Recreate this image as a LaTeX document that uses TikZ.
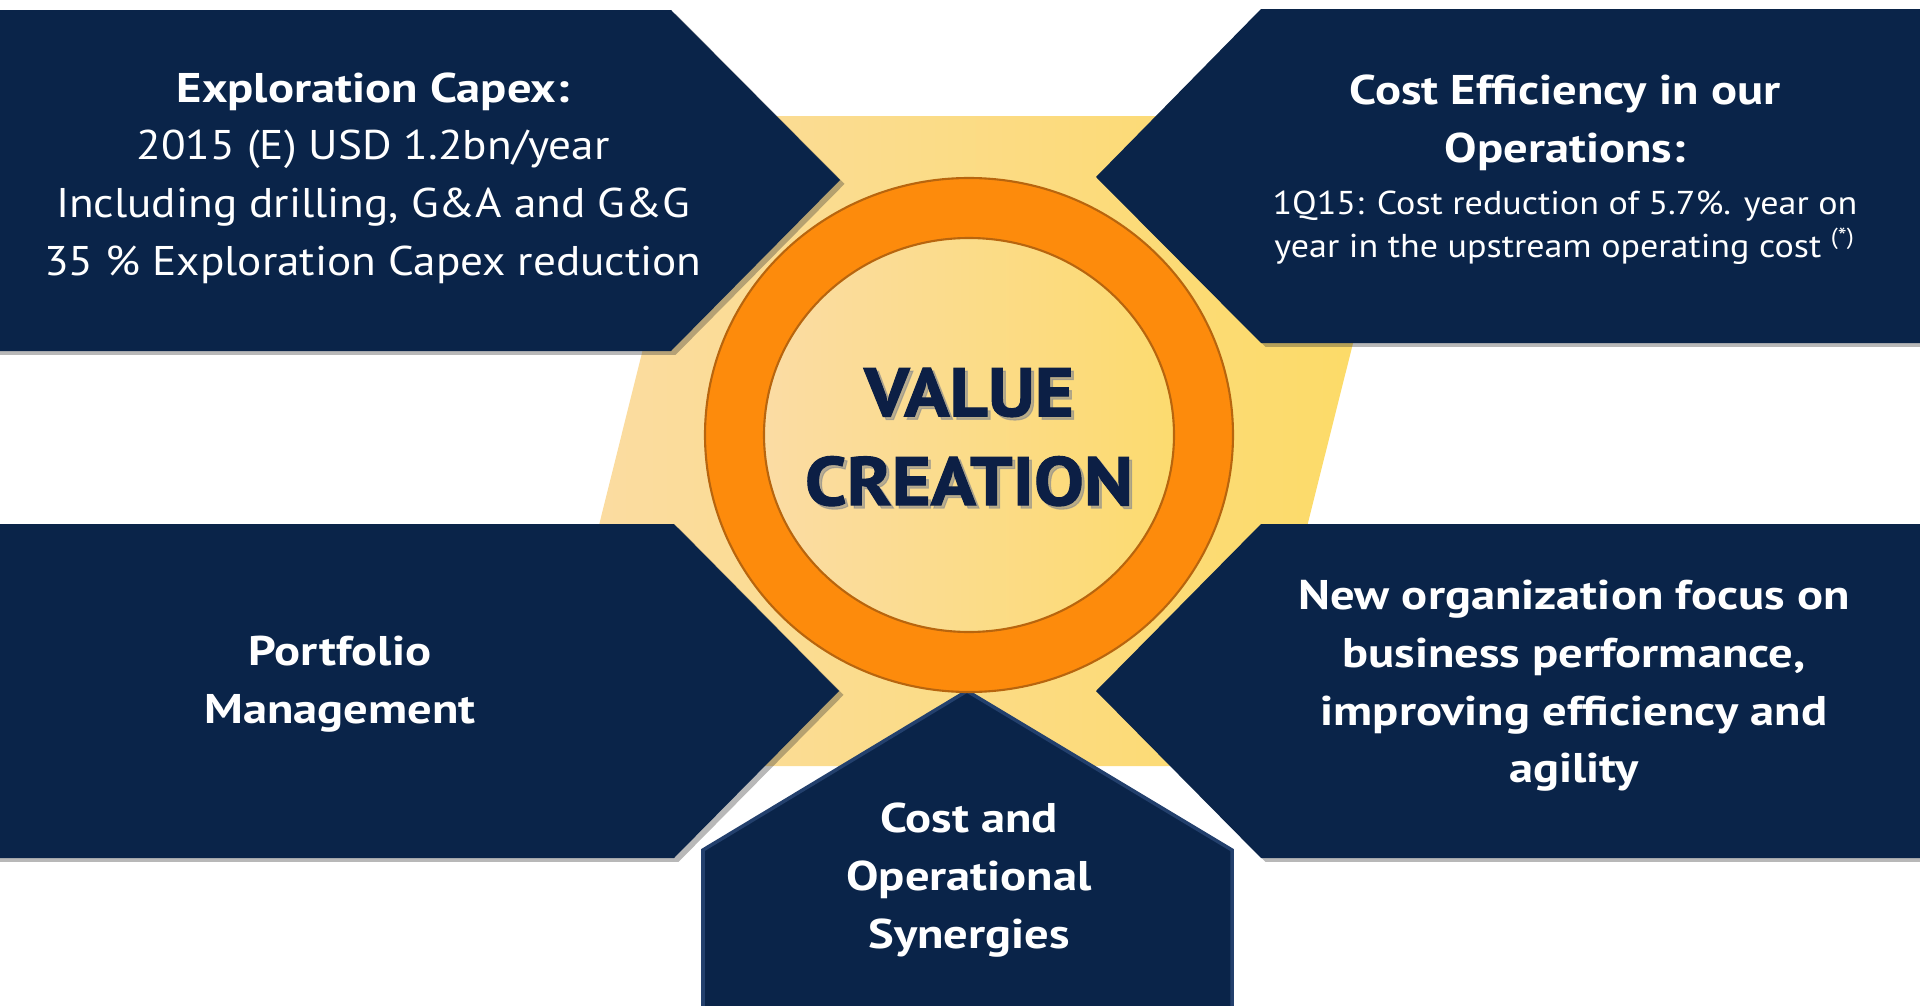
\documentclass[tikz,border=0pt]{standalone}
\usepackage{fontspec}
\setmainfont{PT Sans}
\newfontfamily\headfont[FakeStretch=1.17]{PT Sans}
\newfontfamily\bodyfont[FakeStretch=1.09]{PT Sans}
\newfontfamily\valuefont[FakeStretch=1.09,BoldFeatures={FakeBold=1.6}]{PT Sans}
\usetikzlibrary{shadows,positioning}
\definecolor{navy}{HTML}{0A2449}
\definecolor{navyedge}{HTML}{23406D}
\definecolor{peach}{HTML}{FBDCA5}
\definecolor{sunyellow}{HTML}{FCDB64}
\definecolor{ringorange}{HTML}{FD8B0C}
\definecolor{ringedge}{HTML}{B8650E}
\definecolor{textnavy}{HTML}{0C1F45}
\tikzset{
  navyarrow/.style={fill=navy,
                    drop shadow={shadow xshift=1.3pt,shadow yshift=-1.1pt,
                                 opacity=.35,fill=black!80}},
  bevelbox/.style={fill=navy,draw=navyedge,line width=1pt},
  headtext/.style={text=white,align=center,inner sep=0pt,
                   font=\headfont\bfseries\fontsize{11.8}{16.4}\selectfont},
  bodytext/.style={text=white,align=center,inner sep=0pt,
                   font=\bodyfont\fontsize{11.8}{16.4}\selectfont},
  notetext/.style={text=white,align=center,inner sep=0pt,
                   font=\bodyfont\fontsize{9.4}{12.2}\selectfont},
  valuetext/.style={align=center,inner sep=0pt,
                    font=\valuefont\bfseries\fontsize{19.5}{25.3}\selectfont}
}
\begin{document}
\begin{tikzpicture}[x=0.01cm,y=-0.01cm]
  \useasboundingbox (0,0) rectangle (1920,1006);
  \clip (0,0) rectangle (1920,1006);
  % yellow band behind everything
  \shade[left color=peach,right color=sunyellow]
    (701,116) -- (1410,116) -- (1247,766) -- (539,766) -- cycle;
  % the four arrows
  \fill[navyarrow] (-20,10) -- (671,10) -- (840,180) -- (671,351) -- (-20,351) -- cycle;
  \fill[navyarrow] (1940,9) -- (1261,9) -- (1096,177) -- (1261,343) -- (1940,343) -- cycle;
  \fill[navyarrow] (-20,524) -- (674,524) -- (839,691) -- (674,858) -- (-20,858) -- cycle;
  \fill[navyarrow] (1940,524) -- (1261,524) -- (1096,691) -- (1261,858) -- (1940,858) -- cycle;
  % bottom pentagon
  \draw[bevelbox] (967,691) -- (1232,850) -- (1232,1030) -- (703,1030) -- (703,850) -- cycle;
  % ring
  \coordinate (ringc) at (969,435);
  \shade[left color=peach,right color=sunyellow!85!peach]
    (ringc) ellipse [x radius=215,y radius=207];
  \fill[black,opacity=.28,even odd rule,shift={(5,7)}]
    (ringc) ellipse [x radius=264,y radius=257] (ringc) ellipse [x radius=205,y radius=197];
  \fill[ringorange,even odd rule,draw=ringedge,line width=0.6pt]
    (ringc) ellipse [x radius=264,y radius=257] (ringc) ellipse [x radius=205,y radius=197];
  % texts
  \node[valuetext,text=black!45,opacity=.6] (valueshadow) at (972,440) {VALUE\\CREATION};
  \node[valuetext,text=textnavy] (value) at (969,437) {VALUE\\CREATION};
  \node[bodytext] (capex) at (373,178)
    {{\headfont\bfseries Exploration Capex:}\\2015 (E) USD 1.2bn/year\\Including drilling, G\&A and G\&G\\35 \% Exploration Capex reduction};
  \node[headtext] (costhead) at (1565,123) {Cost Efficiency in our\\Operations:};
  \node[notetext] (costnote) at (1565,228)
    {1Q15: Cost reduction of 5.7\%. year on\\year in the upstream operating cost \textsuperscript{(*)}};
  \node[headtext] (portfolio) at (340,684) {Portfolio\\Management};
  \node[headtext] (organization) at (1574,686)
    {New organization focus on\\business performance,\\improving efficiency and\\agility};
  \node[headtext] (synergies) at (969,880) {Cost and\\Operational\\Synergies};
\end{tikzpicture}
\end{document}
